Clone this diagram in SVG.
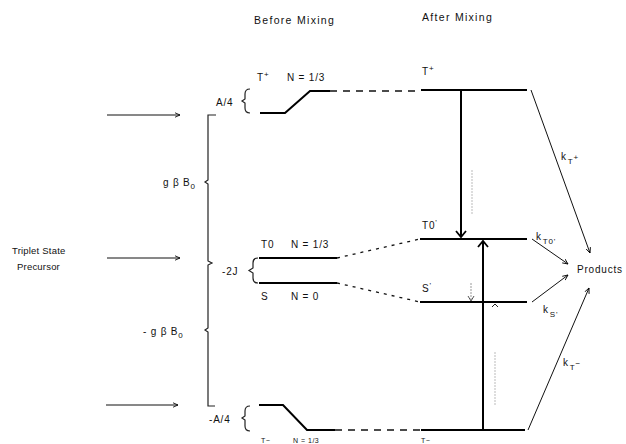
<svg xmlns="http://www.w3.org/2000/svg" width="626" height="444" viewBox="0 0 626 444">
<defs>
<marker id="ah" viewBox="0 0 10 10" refX="9" refY="5" markerWidth="6" markerHeight="6" orient="auto" markerUnits="userSpaceOnUse">
<path d="M0,1 L9,5 L0,9" fill="none" stroke="#000" stroke-width="1.4"/>
</marker>
</defs>
<style>
text{font-family:"Liberation Sans",Arial,sans-serif;font-size:10px;fill:#111;letter-spacing:0.8px}
.hd{font-size:10.5px;letter-spacing:1.3px}
.pre{font-size:9.5px;letter-spacing:0.2px}
.cut{font-size:7px;letter-spacing:0.5px}
.sub{font-size:8px}
.lvl{stroke:#000;stroke-width:2;fill:none}
.thin{stroke:#111;stroke-width:1;fill:none}
.dash{stroke:#111;stroke-width:1.3;stroke-dasharray:7 6;fill:none}
.dot{stroke:#111;stroke-width:1.3;stroke-dasharray:3 5;fill:none}
.faint{stroke:#bbb;stroke-width:1;stroke-dasharray:2 1;fill:none}
.br{stroke:#222;stroke-width:1.2;fill:none}
</style>
<rect width="626" height="444" fill="#fff"/>

<text class="hd" x="254" y="24">Before Mixing</text>
<text class="hd" x="422" y="21">After Mixing</text>

<g id="precursor">
<text class="pre" x="12" y="254">Triplet State</text>
<text class="pre" x="17" y="270">Precursor</text>
</g>

<g id="left-brace">
<path class="br" d="M216,115 H208 V180 L205,182 L208,184 V261 L212,263 L208,265 V328 L205,330 L208,332 V406 H215"/>
<text x="163" y="186">g <tspan>β</tspan> B<tspan class="sub" dy="3">0</tspan></text>
<text x="143" y="335">- g <tspan>β</tspan> B<tspan class="sub" dy="3">0</tspan></text>
</g>

<g id="before-Tplus">
<path class="lvl" d="M260,113 H285 L310,91 H330" stroke-width="1.6"/>
<path class="br" d="M250,89 Q245,89 245,94 V99 L242,101 L245,103 V108 Q245,113 250,113"/>
<text x="216" y="106">A/4</text>
<text x="257" y="81">T<tspan class="sub" dy="-4">+</tspan></text>
<text x="287" y="81">N = 1/3</text>
</g>

<g id="before-T0">
<path class="lvl" d="M259,258 H337"/>
<text x="261" y="248">T0</text>
<text x="291" y="248">N = 1/3</text>
</g>

<g id="before-S">
<path class="lvl" d="M259,283 H337"/>
<text x="261" y="300">S</text>
<text x="291" y="300">N = 0</text>
<path class="br" d="M258,258 Q253,258 253,263 V268 L249,270.5 L253,273 V278 Q253,283 258,283"/>
<text x="222" y="275">-2J</text>
</g>

<g id="before-Tminus">
<path class="lvl" d="M259,405 H283 L307,430 H335" stroke-width="1.6"/>
<path class="br" d="M250,406 Q245,406 245,411 V416 L242,418 L245,420 V426 Q245,431 250,431"/>
<text x="209" y="423">-A/4</text>
<text class="cut" x="261" y="443">T−</text>
<text class="cut" x="293" y="443">N = 1/3</text>
</g>

<g id="after-Tplus">
<path class="lvl" d="M421,90 H527" stroke-width="1.6"/>
<text x="422" y="75">T<tspan class="sub" dy="-4">+</tspan></text>
</g>
<g id="after-T0">
<path class="lvl" d="M420,239 H527" stroke-width="1.6"/>
<text x="422" y="229">T0<tspan class="sub" dy="-4">'</tspan></text>
</g>
<g id="after-S">
<path class="lvl" d="M420,302 H527" stroke-width="1.6"/>
<text x="422" y="292">S<tspan class="sub" dy="-4">'</tspan></text>
</g>
<g id="after-Tminus">
<path class="lvl" d="M421,430 H525" stroke-width="1.6"/>
<text class="cut" x="421" y="443">T−</text>
</g>

<g id="products">
<text x="577" y="273">Products</text>
</g>

<g id="connectors">
<path class="dash" d="M330,91 H421"/>
<path class="dot" d="M337,258 L420,239"/>
<path class="dot" d="M337,283 L420,302"/>
<path class="dash" d="M335,430 H421"/>

<path class="thin" d="M107,115 H180" marker-end="url(#ah)"/>
<path class="thin" d="M107,258 H180" marker-end="url(#ah)"/>
<path class="thin" d="M106,405 H178" marker-end="url(#ah)"/>

<path stroke="#000" stroke-width="2" fill="none" d="M461,91 V237"/>
<path stroke="#000" stroke-width="1.8" fill="none" d="M456,231 L461,237 L466,231"/>
<path stroke="#000" stroke-width="2" fill="none" d="M483,430 V241"/>
<path stroke="#000" stroke-width="1.8" fill="none" d="M478,247 L483,241 L488,247"/>
<path class="faint" d="M472,170 V215"/>
<path class="faint" d="M495,352 V406"/>
<path stroke="#999" stroke-width="1" stroke-dasharray="2 1" fill="none" d="M471,283 V300"/>
<path stroke="#555" stroke-width="1" fill="none" d="M468,296 L471,301 L474,296"/>
<path stroke="#222" stroke-width="1" fill="none" d="M492,307 L495,304 L498,307"/>

<path class="thin" d="M531,90 L590,253" marker-end="url(#ah)"/>
<path class="thin" d="M532,239 L568,264" marker-end="url(#ah)"/>
<path class="thin" d="M532,302 L568,275" marker-end="url(#ah)"/>
<path class="thin" d="M528,430 L589,288" marker-end="url(#ah)"/>

<text x="561" y="160">k<tspan class="sub" dx="1" dy="4">T</tspan><tspan class="sub" dy="-4">+</tspan></text>
<text x="536" y="240">k<tspan class="sub" dx="1" dy="4">T0'</tspan></text>
<text x="543" y="313">k<tspan class="sub" dx="1" dy="4">S'</tspan></text>
<text x="563" y="366">k<tspan class="sub" dx="1" dy="4">T</tspan><tspan class="sub" dy="-4">−</tspan></text>
</g>
</svg>
